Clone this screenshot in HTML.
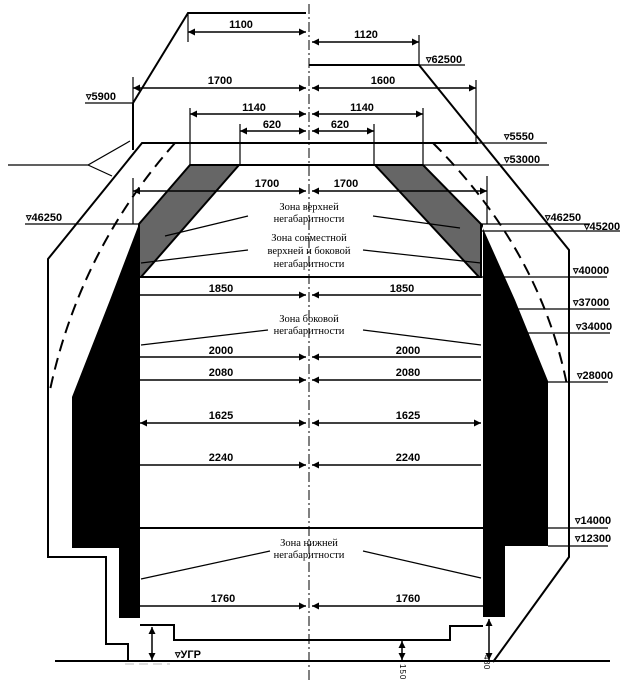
<!DOCTYPE html>
<html><head><meta charset="utf-8"><style>
html,body{margin:0;padding:0;background:#fff}
svg{display:block}
.d{font-family:"Liberation Sans",sans-serif;font-weight:bold;font-size:11px;text-anchor:middle}
.e{font-family:"Liberation Sans",sans-serif;font-weight:bold;font-size:11px}
.z{font-family:"Liberation Serif",serif;font-size:10.5px;text-anchor:middle}
</style></head><body>
<svg width="626" height="680" viewBox="0 0 626 680" xmlns="http://www.w3.org/2000/svg">
<defs>
<marker id="a" viewBox="0 0 10 10" refX="10" refY="5" markerWidth="9" markerHeight="7" orient="auto-start-reverse" markerUnits="userSpaceOnUse"><path d="M0,0L10,5L0,10z" fill="#000"/></marker>
</defs>
<g stroke="#000" fill="none" stroke-width="2">
<polyline points="306,13 188,13 133,103 133,150"/>
<polyline points="309,65 419,65 569,250 569,557 493,662"/>
<polyline points="478,143 142,143 48,259 48,557 106,557 106,644 128,644 128,662"/>
<line x1="55" y1="661" x2="610" y2="661"/>
<polyline points="140,625 174,625 174,640 450,640 450,626 483,626"/>
<line x1="190" y1="165" x2="423" y2="165"/>
<line x1="139" y1="277" x2="481" y2="277"/>
<line x1="140" y1="528" x2="483" y2="528"/>
</g>
<g stroke="#000" fill="none" stroke-width="2" stroke-dasharray="12,7">
<path d="M175,143 Q80,250 50,390"/>
<path d="M433,143 Q540,250 567,385"/>
</g>
<polygon points="190,165 239,165 141,277 139,277 139,224" fill="#666" stroke="#000" stroke-width="2"/>
<polygon points="375,165 423,165 481,224 481,277 479,277" fill="#666" stroke="#000" stroke-width="2"/>
<polygon points="139,224 110,300 72,397 72,548 119,548 119,618 140,618 140,224" fill="#000"/>
<polygon points="481,224 515,300 548,381 548,546 505,546 505,617 483,617 483,224" fill="#000"/>
<g stroke="#000" stroke-width="1.2" fill="none">
<line x1="188" y1="13" x2="188" y2="42"/>
<line x1="419" y1="35" x2="419" y2="65"/>
<line x1="476" y1="80" x2="476" y2="143"/>
<line x1="133" y1="77" x2="133" y2="103"/>
<line x1="190" y1="108" x2="190" y2="165"/>
<line x1="423" y1="108" x2="423" y2="165"/>
<line x1="240" y1="124" x2="240" y2="165"/>
<line x1="374" y1="124" x2="374" y2="165"/>
<line x1="133" y1="178" x2="133" y2="224"/>
<line x1="487" y1="176" x2="487" y2="224"/>
<line x1="85" y1="103" x2="133" y2="103"/>
<line x1="419" y1="65" x2="465" y2="65"/>
<line x1="478" y1="143" x2="547" y2="143"/>
<line x1="423" y1="165" x2="549" y2="165"/>
<line x1="25" y1="224" x2="139" y2="224"/>
<line x1="481" y1="224" x2="590" y2="224"/>
<line x1="481" y1="231" x2="620" y2="231"/>
<line x1="481" y1="277" x2="607" y2="277"/>
<line x1="515" y1="309" x2="610" y2="309"/>
<line x1="525" y1="333" x2="610" y2="333"/>
<line x1="548" y1="382" x2="608" y2="382"/>
<line x1="483" y1="528" x2="608" y2="528"/>
<line x1="548" y1="546" x2="608" y2="546"/>
<polyline points="8,165 88,165 130,141"/>
<line x1="88" y1="165" x2="112" y2="176"/>
<line x1="248" y1="216" x2="165" y2="236"/>
<line x1="373" y1="216" x2="460" y2="228"/>
<line x1="248" y1="250" x2="141" y2="263"/>
<line x1="363" y1="250" x2="481" y2="263"/>
<line x1="268" y1="330" x2="141" y2="345"/>
<line x1="363" y1="330" x2="481" y2="345"/>
<line x1="270" y1="551" x2="141" y2="579"/>
<line x1="363" y1="551" x2="481" y2="578"/>
</g>
<line x1="309" y1="4" x2="309" y2="680" stroke="#000" stroke-width="1" stroke-dasharray="10,3,2,3"/>
<g stroke="#000" stroke-width="1.5" marker-end="url(#a)">
<line x1="188" y1="32" x2="306" y2="32" marker-start="url(#a)"/>
<line x1="312" y1="42" x2="419" y2="42" marker-start="url(#a)"/>
<line x1="133" y1="88" x2="306" y2="88" marker-start="url(#a)"/>
<line x1="312" y1="88" x2="476" y2="88" marker-start="url(#a)"/>
<line x1="190" y1="114" x2="306" y2="114" marker-start="url(#a)"/>
<line x1="312" y1="114" x2="423" y2="114" marker-start="url(#a)"/>
<line x1="240" y1="131" x2="306" y2="131" marker-start="url(#a)"/>
<line x1="312" y1="131" x2="374" y2="131" marker-start="url(#a)"/>
<line x1="133" y1="191" x2="306" y2="191" marker-start="url(#a)"/>
<line x1="312" y1="191" x2="487" y2="191" marker-start="url(#a)"/>
<line x1="140" y1="295" x2="306" y2="295"/>
<line x1="481" y1="295" x2="312" y2="295"/>
<line x1="140" y1="357" x2="306" y2="357"/>
<line x1="481" y1="357" x2="312" y2="357"/>
<line x1="140" y1="380" x2="306" y2="380"/>
<line x1="481" y1="380" x2="312" y2="380"/>
<line x1="140" y1="423" x2="306" y2="423" marker-start="url(#a)"/>
<line x1="312" y1="423" x2="481" y2="423" marker-start="url(#a)"/>
<line x1="140" y1="465" x2="306" y2="465"/>
<line x1="481" y1="465" x2="312" y2="465"/>
<line x1="140" y1="606" x2="306" y2="606"/>
<line x1="483" y1="606" x2="312" y2="606"/>
<line x1="152" y1="627" x2="152" y2="660" marker-start="url(#a)"/>
<line x1="402" y1="641" x2="402" y2="660" marker-start="url(#a)"/>
<line x1="489" y1="619" x2="489" y2="660" marker-start="url(#a)"/>
</g>
<line x1="125" y1="664" x2="170" y2="664" stroke="#bbb" stroke-width="1" stroke-dasharray="9,5"/>
<g class="d">
<text x="241" y="28">1100</text><text x="366" y="38">1120</text>
<text x="220" y="84">1700</text><text x="383" y="84">1600</text>
<text x="254" y="111">1140</text><text x="362" y="111">1140</text>
<text x="272" y="128">620</text><text x="340" y="128">620</text>
<text x="267" y="187">1700</text><text x="346" y="187">1700</text>
<text x="221" y="292">1850</text><text x="402" y="292">1850</text>
<text x="221" y="354">2000</text><text x="408" y="354">2000</text>
<text x="221" y="376">2080</text><text x="408" y="376">2080</text>
<text x="221" y="419">1625</text><text x="408" y="419">1625</text>
<text x="221" y="461">2240</text><text x="408" y="461">2240</text>
<text x="223" y="602">1760</text><text x="408" y="602">1760</text>
</g>
<g class="e">
<text x="86" y="100">▿5900</text>
<text x="426" y="63">▿62500</text>
<text x="504" y="140">▿5550</text>
<text x="504" y="163">▿53000</text>
<text x="26" y="221">▿46250</text>
<text x="545" y="221">▿46250</text>
<text x="584" y="230">▿45200</text>
<text x="573" y="274">▿40000</text>
<text x="573" y="306">▿37000</text>
<text x="576" y="330">▿34000</text>
<text x="577" y="379">▿28000</text>
<text x="575" y="524">▿14000</text>
<text x="575" y="542">▿12300</text>
<text x="175" y="658">▿УГР</text>
</g>
<text transform="translate(400,664) rotate(90)" font-family="Liberation Sans,sans-serif" font-size="8" letter-spacing="1">150</text>
<text transform="translate(484,655) rotate(90)" font-family="Liberation Sans,sans-serif" font-size="8" letter-spacing="0.5">480</text>
<g class="z">
<text x="309" y="210">Зона верхней</text>
<text x="309" y="222">негабаритности</text>
<text x="309" y="241">Зона совместной</text>
<text x="309" y="254">верхней и боковой</text>
<text x="309" y="267">негабаритности</text>
<text x="309" y="322">Зона боковой</text>
<text x="309" y="334">негабаритности</text>
<text x="309" y="546">Зона нижней</text>
<text x="309" y="558">негабаритности</text>
</g>
</svg>
</body></html>
